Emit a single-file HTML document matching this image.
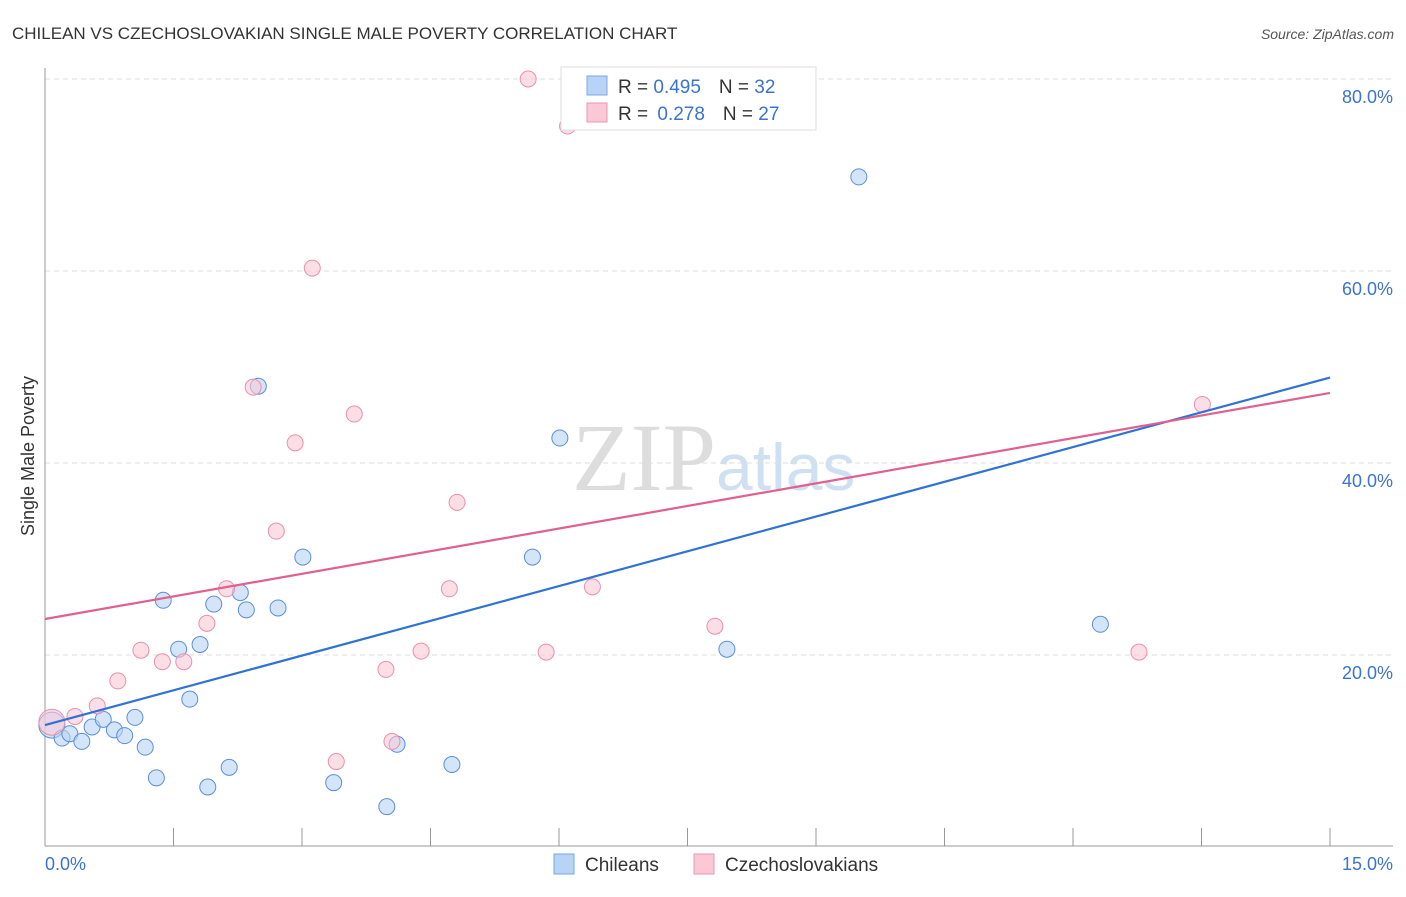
<!DOCTYPE html>
<html><head><meta charset="utf-8"><style>
body{margin:0;background:#fff;font-family:"Liberation Sans",sans-serif;}
</style></head><body>
<svg id="c" width="1406" height="892" xmlns="http://www.w3.org/2000/svg">
<text x="12" y="39" font-size="17" fill="#333">CHILEAN VS CZECHOSLOVAKIAN SINGLE MALE POVERTY CORRELATION CHART</text>
<text x="1394" y="39" font-size="14" fill="#555" font-style="italic" text-anchor="end">Source: ZipAtlas.com</text>
<text x="716" y="490" font-size="96" fill="#ddd" text-anchor="end" font-family="Liberation Serif">ZIP</text>
<text x="716" y="490" font-size="66" fill="#cfe0f3">atlas</text>
<text transform="translate(34,456) rotate(-90)" font-size="18" fill="#333" text-anchor="middle">Single Male Poverty</text>
<g id="grid"></g><g id="pts"></g><g id="lines"></g>
<text x="45" y="870" font-size="18" fill="#3a73d0">0.0%</text>
<text x="1393" y="870" font-size="18" fill="#3a73d0" text-anchor="end">15.0%</text>
<g>
<rect x="561" y="67" width="255" height="63" fill="#fff" stroke="#ddd"/>
<rect x="587" y="76" width="20" height="19" fill="#b8d3f5" stroke="#7aa8e5"/>
<rect x="587" y="103" width="20" height="19" fill="#fac8d6" stroke="#ee95b0"/>
<text x="618" y="93" font-size="19" fill="#333">R = <tspan fill="#3a73d0">0.495</tspan><tspan dx="18">N = </tspan><tspan fill="#3a73d0">32</tspan></text>
<text x="618" y="120" font-size="19" fill="#333">R = <tspan fill="#3a73d0" dx="4">0.278</tspan><tspan dx="18">N = </tspan><tspan fill="#3a73d0">27</tspan></text>
</g>
<g>
<rect x="554" y="854" width="20" height="20" fill="#b8d3f5" stroke="#7aa8e5"/>
<text x="585" y="871" font-size="19" fill="#333">Chileans</text>
<rect x="694" y="854" width="20" height="20" fill="#fac8d6" stroke="#ee95b0"/>
<text x="725" y="871" font-size="19" fill="#333">Czechoslovakians</text>
</g>
</svg>
<script>
const yTicks=[20,40,60,80];
const blueX=[0.08,0.20,0.29,0.43,0.55,0.68,0.81,0.93,1.05,1.17,1.30,1.38,1.56,1.69,1.81,1.90,1.97,2.15,2.28,2.35,2.49,2.72,3.01,3.37,3.99,4.11,4.75,5.69,6.01,7.96,9.50,12.32];
const blueY=[12.7,11.35,11.8,11.0,12.5,13.3,12.2,11.6,13.5,10.4,7.2,25.7,20.6,15.4,21.1,6.25,25.3,8.3,26.5,24.7,48.0,24.9,30.2,6.7,4.2,10.7,8.6,30.2,42.6,20.6,69.8,23.2];
const pinkX=[0.08,0.35,0.61,0.85,1.12,1.37,1.62,1.89,2.12,2.43,2.70,2.92,3.12,3.40,3.61,3.98,4.05,4.39,4.72,4.81,5.64,5.85,6.10,6.39,7.82,12.77,13.51];
const pinkY=[13.0,13.6,14.7,17.3,20.5,19.3,19.3,23.3,26.9,47.9,32.9,42.1,60.3,8.9,45.1,18.5,11.0,20.4,26.9,35.9,80.0,20.3,75.1,27.1,23.0,20.3,46.1];
const blueLine=[12.7,48.9];
const pinkLine=[23.75,47.3];
const X=v=>45+v/15*1285, Y=v=>847-v*9.6;
const NS='http://www.w3.org/2000/svg';
function mk(t,a,p){const e=document.createElementNS(NS,t);for(const k in a)e.setAttribute(k,a[k]);p.appendChild(e);return e;}
const g=document.getElementById('grid');
yTicks.forEach(t=>{
 const l=mk('line',{x1:45,x2:1393,y1:Y(t),y2:Y(t),stroke:'#ddd','stroke-dasharray':'5,4'},g);
 
 
 const tx=mk('text',{x:1393,y:Y(t)+24,'font-size':18,fill:'#3a73d0','text-anchor':'end'},g);
 tx.textContent=t.toFixed(1)+'%';
 
 
});
mk('line',{x1:45,x2:45,y1:68,y2:846,stroke:'#999'},g);
mk('line',{x1:45,x2:1393,y1:846,y2:846,stroke:'#999'},g);
for(let i=1;i<=10;i++){const t=mk('line',{x1:X(i*1.5),x2:X(i*1.5),y1:828,y2:846,stroke:'#999'},g);
 
 }
const p=document.getElementById('pts');
function dots(xs,ys,f,s,name){xs.forEach((x,i)=>{
 const c=mk('circle',{cx:X(x),cy:Y(ys[i]),r:i==0?13:8,fill:f,'fill-opacity':0.6,stroke:s,'stroke-width':1},p);
 
 });}
dots(blueX,blueY,'#b8d3f5','#5b8fd8','chilean-point');
dots(pinkX,pinkY,'#fac8d6','#e890ac','czechoslovakian-point');
const L=document.getElementById('lines');
const bl=mk('line',{x1:X(0),y1:Y(blueLine[0]),x2:X(15),y2:Y(blueLine[1]),stroke:'#2f72d6','stroke-width':2.2},L);


const pl=mk('line',{x1:X(0),y1:Y(pinkLine[0]),x2:X(15),y2:Y(pinkLine[1]),stroke:'#e0608e','stroke-width':2.2},L);


</script>
</body></html>
